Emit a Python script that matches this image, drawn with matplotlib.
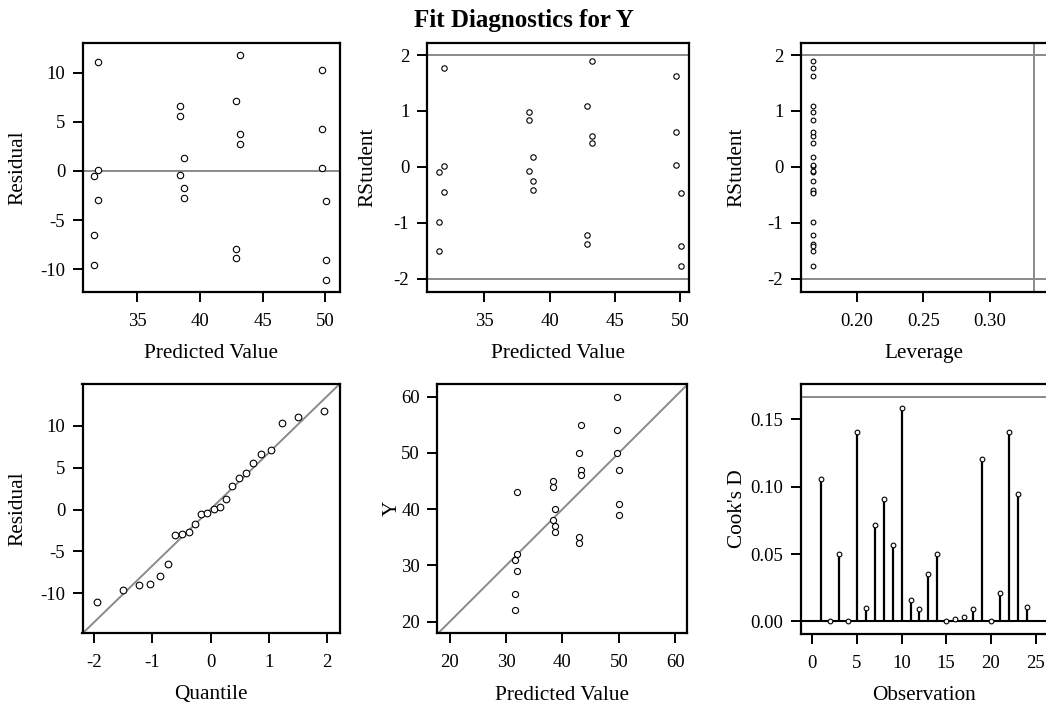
import matplotlib
matplotlib.use("Agg")
import matplotlib.pyplot as plt
import numpy as np
from statistics import NormalDist

# ---------------- data ----------------
observation = list(range(1, 25))
y_obs = [22, 31, 25, 32, 43, 29, 35, 34, 50, 55, 47, 46,
         45, 44, 38, 40, 37, 36, 60, 54, 50, 39, 41, 47]
predicted = [31.55, 31.55, 31.55, 31.90, 31.90, 31.90,
             42.88, 42.88, 42.88, 43.22, 43.22, 43.22,
             38.40, 38.40, 38.40, 38.73, 38.73, 38.73,
             49.70, 49.70, 49.70, 50.06, 50.06, 50.06]
rstudent = [-1.50, -0.085, -0.99, 0.016, 1.77, -0.44,
            -1.22, -1.37, 1.08, 1.90, 0.55, 0.42,
            0.99, 0.84, -0.07, 0.18, -0.26, -0.42,
            1.62, 0.63, 0.03, -1.77, -1.42, -0.46]
leverage = [0.1667, 0.1667, 0.1667, 0.1667, 0.1667, 0.1667,
            0.1667, 0.1667, 0.1667, 0.1667, 0.1667, 0.1667,
            0.1667, 0.1667, 0.1667, 0.1667, 0.1667, 0.1667,
            0.1667, 0.1667, 0.1667, 0.1667, 0.1667, 0.1667]
cooks_d = [0.1054, 0.0005, 0.0501, 0.0000, 0.1410, 0.0096,
           0.0716, 0.0911, 0.0570, 0.1588, 0.0160, 0.0089,
           0.0353, 0.0501, 0.0002, 0.0015, 0.0032, 0.0089,
           0.1207, 0.0001, 0.0207, 0.1410, 0.0948, 0.0104]
rstudent_cut = 2.0
leverage_cut = 0.3333
cooks_cut = 0.1667

title = "Fit Diagnostics for Y"

# ---------------- derived ----------------
y_arr = np.array(y_obs, float)
pred_arr = np.array(predicted, float)
resid = y_arr - pred_arr
n = len(resid)
sorted_resid = np.sort(resid)
quantiles = np.array([NormalDist().inv_cdf((i - 0.375) / (n + 0.25)) for i in range(1, n + 1)])
r_mean = resid.mean()
r_std = resid.std(ddof=1)

# ---------------- style ----------------
plt.rcParams["font.family"] = ["Liberation Serif", "DejaVu Serif"]
plt.rcParams["axes.unicode_minus"] = False
GRAY = "#8a8a8a"
TICK_FS = 13.5
LABEL_FS = 15.3

W, H = 1046, 708
fig = plt.figure(figsize=(W / 100, H / 100), dpi=100)


def add_ax(left, top, right, bottom):
    ax = fig.add_axes([left / W, 1 - bottom / H, (right - left) / W, (bottom - top) / H])
    ax._px = (left, top, right, bottom)
    return ax


def style(ax, xlabel, ylabel, ylab_x, xlab_y):
    for s in ax.spines.values():
        s.set_linewidth(1.6)
        s.set_color("black")
    ax.tick_params(direction="out", length=7.5, width=1.4, labelsize=TICK_FS,
                   top=False, right=False)
    ax.tick_params(axis="x", pad=7.5)
    ax.tick_params(axis="y", pad=5)
    left, top, right, bottom = ax._px
    ax.set_xlabel(xlabel, fontsize=LABEL_FS, va="center")
    ax.set_ylabel(ylabel, fontsize=LABEL_FS, va="center")
    ax.yaxis.set_label_coords((ylab_x - left) / (right - left), 0.5)
    ax.xaxis.set_label_coords(0.5, -(xlab_y - bottom) / (bottom - top))


def circles(ax, x, y, ms):
    ax.plot(x, y, linestyle="none", marker="o", markersize=ms,
            markerfacecolor="white", markeredgecolor="black",
            markeredgewidth=0.8, zorder=4)


# Panel 1: Residual vs Predicted
ax1 = add_ax(82.5, 42.7, 339.8, 291.7)
ax1.axhline(0, color=GRAY, lw=1.4, zorder=1)
circles(ax1, predicted, resid, 4.6)
ax1.set_xlim(30.63, 51.15)
ax1.set_ylim(-12.27, 13.04)
ax1.set_xticks([35, 40, 45, 50])
ax1.set_yticks([-10, -5, 0, 5, 10])
style(ax1, "Predicted Value", "Residual", 18, 353)

# Panel 2: RStudent vs Predicted
ax2 = add_ax(426.7, 42.7, 689.3, 291.7)
ax2.axhline(rstudent_cut, color=GRAY, lw=1.4, zorder=1)
ax2.axhline(-rstudent_cut, color=GRAY, lw=1.4, zorder=1)
circles(ax2, predicted, rstudent, 3.9)
ax2.set_xlim(30.59, 50.71)
ax2.set_ylim(-2.23, 2.22)
ax2.set_xticks([35, 40, 45, 50])
ax2.set_yticks([-2, -1, 0, 1, 2])
style(ax2, "Predicted Value", "RStudent", 368, 353)

# Panel 3: RStudent vs Leverage
ax3 = add_ax(800.7, 42.7, 1048, 291.7)
ax3.axhline(rstudent_cut, color=GRAY, lw=1.4, zorder=1)
ax3.axhline(-rstudent_cut, color=GRAY, lw=1.4, zorder=1)
ax3.axvline(leverage_cut, color=GRAY, lw=1.4, zorder=1)
circles(ax3, leverage, rstudent, 3.4)
ax3.set_xlim(0.1577, 0.3438)
ax3.set_ylim(-2.23, 2.22)
ax3.set_xticks([0.20, 0.25, 0.30])
ax3.set_xticklabels(["0.20", "0.25", "0.30"])
ax3.set_yticks([-2, -1, 0, 1, 2])
style(ax3, "Leverage", "RStudent", 737, 353)

# Panel 4: QQ plot of residuals
ax4 = add_ax(82.5, 384, 339.5, 633.3)
xl4 = (-2.2, 2.217)
ax4.plot(xl4, [r_mean + r_std * v for v in xl4], color=GRAY, lw=1.4, zorder=1)
circles(ax4, quantiles, sorted_resid, 4.8)
ax4.set_xlim(*xl4)
ax4.set_ylim(-14.77, 14.98)
ax4.set_xticks([-2, -1, 0, 1, 2])
ax4.set_yticks([-10, -5, 0, 5, 10])
style(ax4, "Quantile", "Residual", 18, 695)

# Panel 5: Y vs Predicted
ax5 = add_ax(437.3, 384, 687.3, 633.3)
lim5 = (17.8, 62.15)
ax5.plot(lim5, lim5, color=GRAY, lw=1.4, zorder=1)
circles(ax5, predicted, y_obs, 4.4)
ax5.set_xlim(*lim5)
ax5.set_ylim(17.94, 62.26)
ax5.set_xticks([20, 30, 40, 50, 60])
ax5.set_yticks([20, 30, 40, 50, 60])
style(ax5, "Predicted Value", "Y", 392, 695)

# Panel 6: Cook's D
ax6 = add_ax(800.7, 384, 1048, 634)
ax6.axhline(cooks_cut, color=GRAY, lw=1.4, zorder=1)
ax6.axhline(0, color="black", lw=1.5, zorder=2)
ax6.vlines(observation, 0, cooks_d, color="black", lw=1.6, zorder=3)
circles(ax6, observation, cooks_d, 3.4)
ax6.set_xlim(-1.3, 26.4)
ax6.set_ylim(-0.0094, 0.1763)
ax6.set_xticks([0, 5, 10, 15, 20, 25])
ax6.set_yticks([0.0, 0.05, 0.10, 0.15])
ax6.set_yticklabels(["0.00", "0.05", "0.10", "0.15"])
style(ax6, "Observation", "Cook's D", 737, 695)

fig.text(524 / W, 1 - 26.7 / H, title, ha="center", va="baseline",
         fontsize=18, fontweight="bold")

fig.savefig("out.png", dpi=100)
